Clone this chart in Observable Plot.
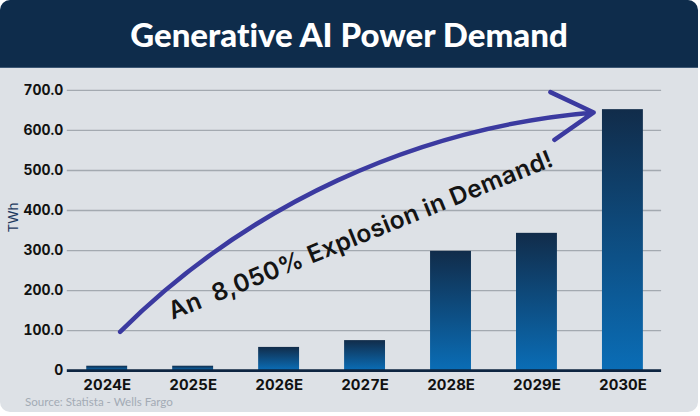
<!DOCTYPE html>
<html><head><meta charset="utf-8">
<script src="https://cdn.jsdelivr.net/npm/d3@7"></script>
<script src="https://cdn.jsdelivr.net/npm/@observablehq/plot@0.6"></script>
<style>
html,body{margin:0;padding:0;background:#fff;}
#card{position:relative;width:698px;height:412px;background:#dde1e6;border-radius:10px;overflow:hidden;}
#banner{position:absolute;left:0;top:0;width:100%;height:67px;background:#0e2c4b;border-bottom:1px solid #3d5875;}
#title{position:absolute;left:0;top:0;width:100%;text-align:center;color:#fff;font-family:Lato,sans-serif;font-weight:900;font-size:33px;line-height:68px;font-variant-ligatures:none;}
#chart{position:absolute;left:0;top:68px;}
#source{position:absolute;left:25px;top:395px;font-family:Lato,sans-serif;font-size:11.6px;color:#a3abb5;}
svg text{white-space:pre;}
.callout text{letter-spacing:0.4px;}
</style></head>
<body>
<div id="card">
  <div id="banner"><div id="title"></div></div>
  <div id="chart"></div>
  <div id="source"></div>
</div>
<script>
const title = "Generative AI Power Demand";
const source = "Source: Statista - Wells Fargo";
const unit = "TWh";
const years = ["2024E", "2025E", "2026E", "2027E", "2028E", "2029E", "2030E"];
const demand = [11, 11, 58, 75, 298, 343, 652];
const yTicks = [0, 100, 200, 300, 400, 500, 600, 700];
const calloutText = "An  8,050% Explosion in Demand!";
const calloutAt = [2.95, 338];
const arrowStart = [0.15, 97];
const arrowEnd = [5.66, 645];

document.getElementById("title").textContent = title;
document.getElementById("source").textContent = source;

const idx = years.map((_, i) => i);
const data = years.map((year, i) => ({i, year, value: demand[i]}));
const half = 0.238;
const arrows = [{x1: arrowStart[0], y1: arrowStart[1], x2: arrowEnd[0], y2: arrowEnd[1]}];
const callouts = [{x: calloutAt[0], y: calloutAt[1], text: calloutText}];

const plot = Plot.plot({
  width: 700, height: 331,
  marginLeft: 67, marginRight: 37, marginTop: 22, marginBottom: 28,
  style: {background: "transparent", fontFamily: "Inter, sans-serif", color: "#111"},
  x: {domain: [-0.464, 6.45], axis: null},
  y: {domain: [0, 700], axis: null},
  marks: [
    Plot.ruleY(yTicks.filter(d => d > 0), {stroke: "#a3a9b0", strokeWidth: 1.3}),
    Plot.rectY(data, {x1: d => d.i - half, x2: d => d.i + half, y: "value", fill: "url(#barGrad)"}),
    Plot.ruleY([0], {stroke: "#0d2541", strokeWidth: 3}),
    Plot.axisY(yTicks, {tickSize: 0, tickPadding: 4, tickFormat: d => d === 0 ? "0" : d.toFixed(1), fontSize: 14, fontWeight: 700, label: null}),
    Plot.axisX(idx, {tickSize: 0, tickPadding: 9, tickFormat: i => years[i], fontSize: 15, fontWeight: 700, label: null}),
    Plot.text([unit], {frameAnchor: "left", dx: -54, dy: 2, rotate: -90, fontSize: 13.5, fill: "#1e3a5f", text: d => d}),
    Plot.arrow(arrows, {x1: "x1", y1: "y1", x2: "x2", y2: "y2", bend: 20, stroke: "#3b3aa0", strokeWidth: 4.5, headLength: 16, headAngle: 60}),
    Plot.text(callouts, {x: "x", y: "y", text: "text", rotate: -22, fontSize: 24.5, fontWeight: 600, fill: "#141414", className: "callout"})
  ]
});
const svg = d3.select(plot);
const grad = svg.insert("defs", ":first-child").append("linearGradient")
  .attr("id", "barGrad").attr("x1", 0).attr("y1", 0).attr("x2", 0).attr("y2", 1);
grad.append("stop").attr("offset", "0%").attr("stop-color", "#112c4a");
grad.append("stop").attr("offset", "100%").attr("stop-color", "#0a6db6");
document.getElementById("chart").appendChild(plot);
</script>
</body></html>
